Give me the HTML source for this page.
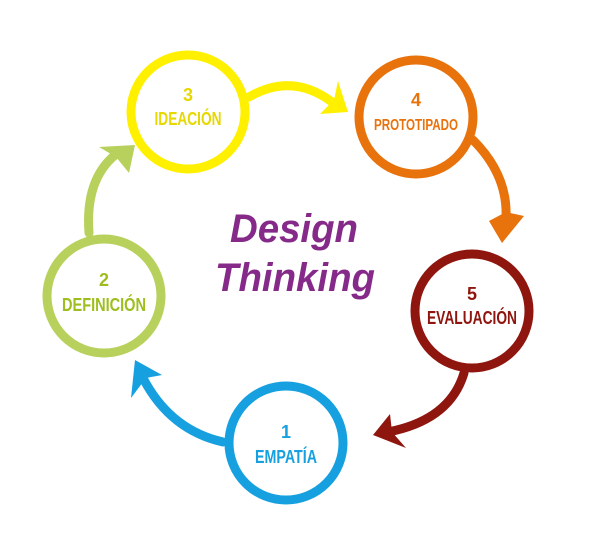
<!DOCTYPE html>
<html><head><meta charset="utf-8"><style>
html,body{margin:0;padding:0;background:#fff;width:606px;height:544px;overflow:hidden}
text{font-family:"Liberation Sans Narrow","Liberation Sans",sans-serif;font-weight:bold;text-anchor:middle}
</style></head><body>
<svg width="606" height="544" viewBox="0 0 606 544" xmlns="http://www.w3.org/2000/svg">
<g fill="none" stroke-width="9" stroke-linecap="round">
<circle cx="188" cy="112" r="57" stroke="#FFF000"/>
<circle cx="416" cy="117" r="57" stroke="#E8720C"/>
<circle cx="472" cy="311" r="57" stroke="#8E160E"/>
<circle cx="286" cy="443" r="57" stroke="#16A0E0"/>
<circle cx="104" cy="296" r="57" stroke="#B8D15C"/>
<path d="M249 97 Q292 72 332 102" stroke="#FFF000"/>
<path d="M473 140 Q508 175 506 218" stroke="#E8720C"/>
<path d="M464 373 Q450 420 388 432" stroke="#8E160E"/>
<path d="M223 442 Q170 430 143 378" stroke="#16A0E0"/>
<path d="M89 233 Q85 180 115 155" stroke="#B8D15C"/>
</g>
<polygon points="348,112 338,81 334,100 320,114" fill="#FFF000"/>
<polygon points="502,243 489,221 506,212 524,216" fill="#E8720C"/>
<polygon points="373,435 390,414 392,432 406,448" fill="#8E160E"/>
<polygon points="135,360 131,398 146,378 162,375" fill="#16A0E0"/>
<polygon points="135,145 99,147 116,157 129,173" fill="#B8D15C"/>
<g font-size="18">
<text x="188" y="101" fill="#E6D800">3</text>
<text x="188" y="125" fill="#E6D800" textLength="67" lengthAdjust="spacingAndGlyphs">IDEACIÓN</text>
<text x="416" y="106" fill="#E8720C">4</text>
<text x="416" y="130" fill="#E8720C" textLength="84" lengthAdjust="spacingAndGlyphs" font-size="16">PROTOTIPADO</text>
<text x="472" y="300" fill="#8E160E">5</text>
<text x="472" y="324" fill="#8E160E" textLength="90" lengthAdjust="spacingAndGlyphs">EVALUACIÓN</text>
<text x="286" y="438" fill="#16A0E0">1</text>
<text x="286" y="463" fill="#16A0E0" textLength="62" lengthAdjust="spacingAndGlyphs">EMPATÍA</text>
<text x="104" y="286" fill="#9DBE1E">2</text>
<text x="104" y="311" fill="#9DBE1E" textLength="84" lengthAdjust="spacingAndGlyphs">DEFINICIÓN</text>
</g>
<g fill="#862A8A" font-style="italic" font-size="40" style="font-family:'Liberation Sans',sans-serif">
<text x="294" y="242" textLength="128" lengthAdjust="spacingAndGlyphs">Design</text>
<text x="295" y="291" textLength="160" lengthAdjust="spacingAndGlyphs">Thinking</text>
</g>
</svg>
</body></html>
